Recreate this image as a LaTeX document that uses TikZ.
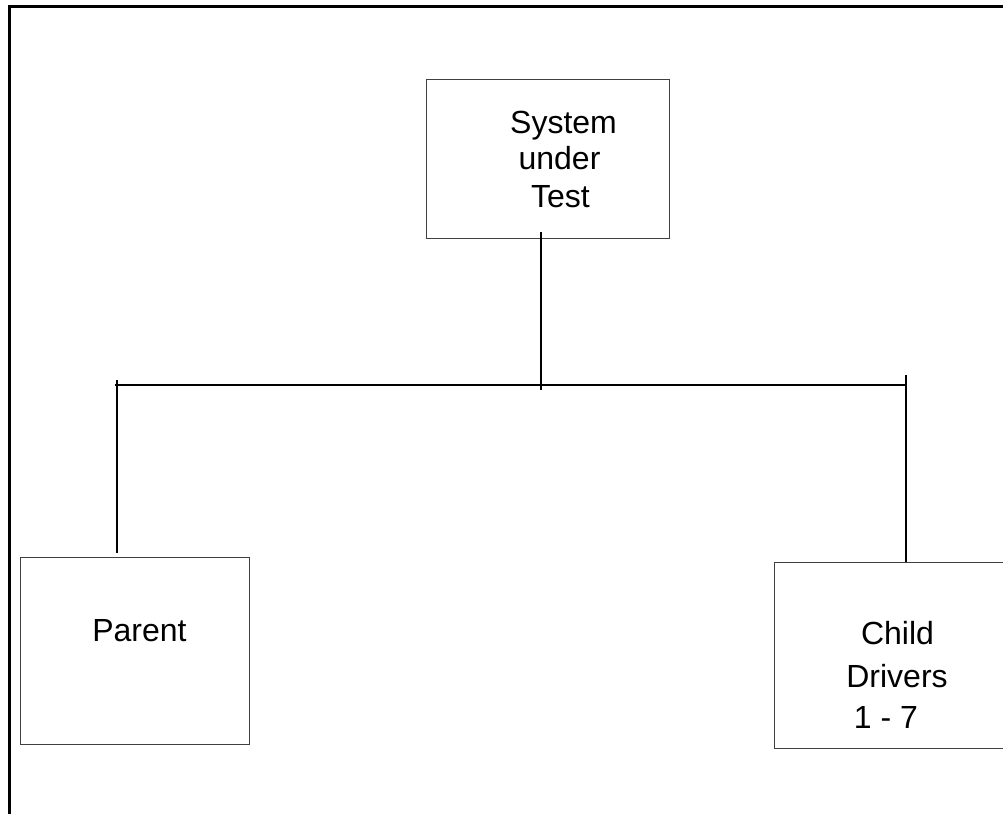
\documentclass[tikz,border=0pt]{standalone}
\usepackage{fontspec}
\setmainfont{Liberation Sans}
\begin{document}
\begin{tikzpicture}[x=1pt,y=-1pt,
 box/.style={draw=black!75, line width=1pt, fill=white, inner sep=0pt},
 txt/.style={font=\fontsize{32}{37}\selectfont, inner sep=0pt, anchor=base},
 wire/.style={line width=2.6pt, black},
 frame/.style={line width=3.2pt, black}]
\useasboundingbox (0,0) rectangle (1003,814);
\clip (0,0) rectangle (1003,814);
\draw[frame] (9.5,814) -- (9.5,6.5) -- (1003,6.5);
% boxes
\node[box, minimum width=243pt, minimum height=159pt] (sut) at (547.5,158.5) {};
\node[box, minimum width=229pt, minimum height=187pt] (parent) at (134.5,650.5) {};
\node[box, minimum width=236pt, minimum height=186pt] (child) at (892,655) {};
% texts
\node[txt] (sutA) at (563.5,133) {System};
\node[txt] (sutB) at (559.5,169) {under};
\node[txt] (sutC) at (560.5,207) {Test};
\node[txt] (parentT) at (139.5,641) {Parent};
\node[txt] (childA) at (897.5,644) {Child};
\node[txt] (childB) at (897,687) {Drivers};
\node[txt] (childC) at (886,728) {1 - 7};
% connector coordinates
\coordinate (stemtop) at (541,232);
\coordinate (stembot) at (541,390);
\coordinate (hl) at (115,385);
\coordinate (hr) at (907,385);
\coordinate (ltop) at (117,380);
\coordinate (lbot) at (117,553);
\coordinate (rtop) at (906,375);
\coordinate (rbot) at (906,562);
\draw[wire] (stemtop) -- (stembot);
\draw[wire] (hl) -- (hr);
\draw[wire] (ltop) -- (lbot);
\draw[wire] (rtop) -- (rbot);
\end{tikzpicture}
\end{document}
